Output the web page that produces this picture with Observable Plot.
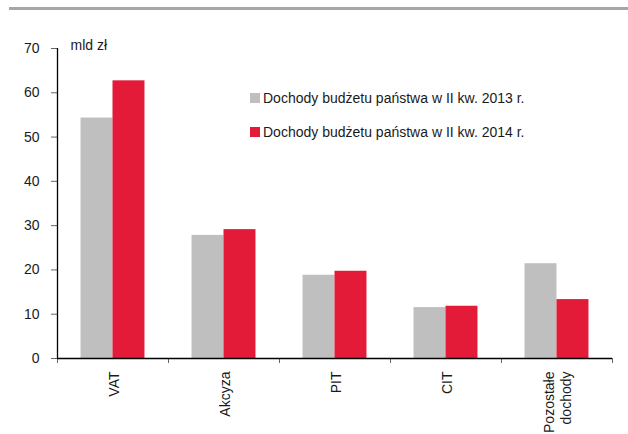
<!DOCTYPE html>
<html>
<head>
<meta charset="utf-8">
<script src="https://cdn.jsdelivr.net/npm/d3@7"></script>
<script src="https://cdn.jsdelivr.net/npm/@observablehq/plot@0.6"></script>
<style>
  html, body { margin: 0; padding: 0; background: #fff; }
  #wrap { position: relative; width: 628px; height: 434px; overflow: hidden; font-family: "Liberation Sans", Arial, sans-serif; }
  #wrap svg { position: absolute; left: 0; top: 0; }
  #topline { position: absolute; left: 9px; right: 0; top: 7px; height: 3px; background: #a6a6a6; z-index: 2; }
  .leg { position: absolute; left: 250px; font-size: 14px; line-height: 16px; color: #1a1a1a; white-space: nowrap; z-index: 2; }
  .leg .sw { position: absolute; left: 0; top: 3px; width: 10px; height: 10px; }
  .leg .tx { position: absolute; left: 13px; top: 0; }
</style>
</head>
<body>
<div id="wrap"><div id="topline"></div></div>
<script>
const categories = ["VAT", "Akcyza", "PIT", "CIT", "Pozostałe\ndochody"];
const values2013 = [54.3, 27.8, 18.8, 11.5, 21.4];
const values2014 = [62.7, 29.1, 19.7, 11.8, 13.3];
const seriesLabels = ["Dochody budżetu państwa w II kw. 2013 r.", "Dochody budżetu państwa w II kw. 2014 r."];
const seriesColors = ["#bfbfbf", "#e31a38"];
const yTicks = [0, 10, 20, 30, 40, 50, 60, 70];
const unitLabel = "mld zł";

const barWidth = 0.288; // fraction of a category slot
const rows2013 = categories.map((c, i) => ({cat: c, i, v: values2013[i]}));
const rows2014 = categories.map((c, i) => ({cat: c, i, v: values2014[i]}));
const slotEdges = d3.range(categories.length + 1);

const chart = Plot.plot({
  width: 628,
  height: 434,
  marginLeft: 57,
  marginRight: 16,
  marginTop: 48,
  marginBottom: 76,
  style: {fontFamily: "Liberation Sans, Arial, sans-serif", fontSize: "14px", color: "#1a1a1a", background: "transparent"},
  x: {domain: [0, categories.length], axis: null, label: null},
  y: {domain: [0, 70], axis: null, label: null},
  marks: [
    Plot.rectY(rows2013, {x1: d => d.i + 0.5 - barWidth, x2: d => d.i + 0.5, y1: 0, y2: "v", fill: seriesColors[0]}),
    Plot.rectY(rows2014, {x1: d => d.i + 0.5, x2: d => d.i + 0.5 + barWidth, y1: 0, y2: "v", fill: seriesColors[1]}),
    Plot.axisY({ticks: yTicks, tickSize: 6, tickPadding: 12, stroke: "#666", fontSize: 14, fill: "#1a1a1a", label: null}),
    Plot.axisX({ticks: slotEdges, tickSize: 5, tickFormat: () => "", stroke: "#666", label: null}),
    Plot.ruleX([0], {stroke: "#000", strokeWidth: 1.3}),
    Plot.ruleY([0], {stroke: "#000", strokeWidth: 1.3}),
    Plot.text(rows2013, {x: d => d.i + 0.5, y: 0, text: "cat", rotate: -90, textAnchor: "end", lineAnchor: "middle", lineHeight: 1.25, dy: 13, fontSize: 14, fill: "#1a1a1a"}),
    Plot.text([unitLabel], {x: 0, y: 70, text: d => d, textAnchor: "start", dx: 13, dy: -3, fontSize: 14, fill: "#1a1a1a"})
  ]
});

const wrap = document.getElementById("wrap");
wrap.appendChild(chart);

seriesLabels.forEach((lab, k) => {
  const el = document.createElement("div");
  el.className = "leg";
  el.style.top = (90 + k * 34) + "px";
  el.innerHTML = `<span class="sw" style="background:${seriesColors[k]}"></span><span class="tx">${lab}</span>`;
  wrap.appendChild(el);
});
</script>
</body>
</html>
